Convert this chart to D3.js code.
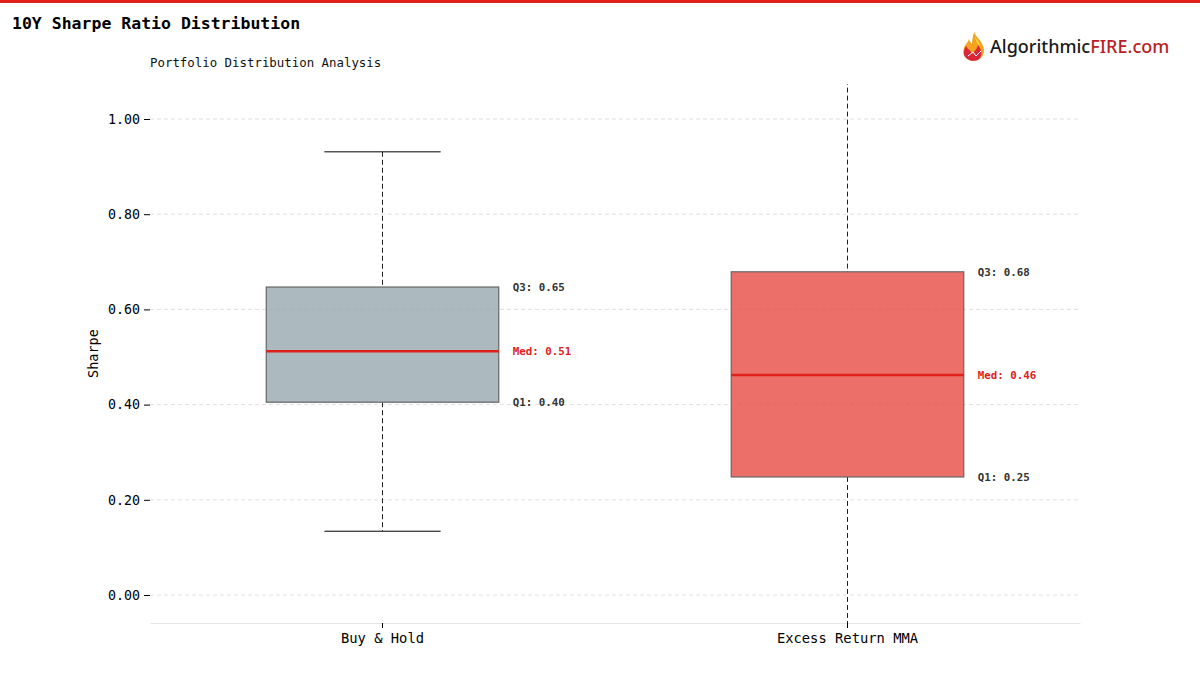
<!DOCTYPE html>
<html><head><meta charset="utf-8">
<script src="https://cdn.jsdelivr.net/npm/d3@7"></script>
<style>body{margin:0;background:#fff}</style>
</head><body>
<svg id="chart" width="1200" height="700"></svg>
<script>
const categories = ["Buy & Hold", "Excess Return MMA"];
const whiskerLow = [0.134, -0.15];
const q1 = [0.405, 0.248];
const median = [0.512, 0.462];
const q3 = [0.647, 0.679];
const whiskerHigh = [0.931, 1.15];
const q1Labels = ["Q1: 0.40", "Q1: 0.25"];
const medLabels = ["Med: 0.51", "Med: 0.46"];
const q3Labels = ["Q3: 0.65", "Q3: 0.68"];
const yTicks = [0, 0.2, 0.4, 0.6, 0.8, 1.0];
const fills = ["rgba(149,165,173,0.78)", "rgba(232,80,72,0.82)"];

const svg = d3.select("#chart");
const mono = "'DejaVu Sans Mono', monospace";
const L = 150, R = 1080, T = 84, B = 623;

svg.append("rect").attr("x",0).attr("y",0).attr("width",1200).attr("height",3).attr("fill","#e0201a");
svg.append("text").attr("x",12).attr("y",29).text("10Y Sharpe Ratio Distribution")
  .attr("font-family",mono).attr("font-weight","bold").attr("font-size",16.5).attr("fill","#000");
svg.append("text").attr("x",150).attr("y",67).text("Portfolio Distribution Analysis")
  .attr("font-family",mono).attr("font-size",12.4).attr("fill","#111");

// logo
const logo = svg.append("g").attr("transform","translate(962,31)");
logo.append("path").attr("d","M12,1 C14,6 19,9 21,15 C24,22 20,29 12,30 C4,30 0,23 2,17 C3,13 6,12 7,8 C8,11 9,12 10,13 C10,9 11,5 12,1Z").attr("fill","#f4a21f");
logo.append("path").attr("d","M4,15 C6,19 9,19 10,23 C12,20 15,19 16,14 C20,19 21,25 16,29 C11,31 4,29 2,24 C1,20 3,17 4,15Z").attr("fill","#d9263a");
logo.append("path").attr("d","M13,5 C15,9 18,11 18,15 C15,13 14,10 13,5Z").attr("fill","#fbd33a");
logo.append("path").attr("d","M6,25 L11,21 L14,25 L19,20").attr("fill","none").attr("stroke","#fff").attr("stroke-width",1);
const lt = svg.append("text").attr("x",990).attr("y",53).attr("font-family","'Noto Sans', sans-serif").attr("font-size",18).attr("font-weight",500);
lt.append("tspan").text("Algorithmic").attr("fill","#1a1a1a");
lt.append("tspan").text("FIRE.com").attr("fill","#b81e24");

const x = d3.scaleBand().domain(categories).range([L,R]);
const y = d3.scaleLinear().domain([-0.0588, 1.0735]).range([B,T]);

// grid
svg.append("g").selectAll("line").data(yTicks).join("line")
  .attr("x1",L).attr("x2",R).attr("y1",d=>y(d)).attr("y2",d=>y(d))
  .attr("stroke","#d8d8d8").attr("stroke-dasharray","4,3").attr("stroke-width",0.8);

// y axis
const ya = svg.append("g").attr("transform",`translate(${L},0)`)
  .call(d3.axisLeft(y).tickValues(yTicks).tickFormat(d3.format(".2f")).tickSize(6).tickSizeOuter(0).tickPadding(4));
ya.select(".domain").remove();
ya.selectAll(".tick line").attr("stroke","#000");
ya.selectAll("text").attr("font-family",mono).attr("font-size",13.3).attr("fill","#000");

// x axis
const xa = svg.append("g").attr("transform",`translate(0,${B})`)
  .call(d3.axisBottom(x).tickSize(5).tickSizeOuter(0).tickPadding(5));
xa.select(".domain").attr("stroke","#e6e6e6");
xa.selectAll(".tick line").attr("stroke","#000");
xa.selectAll("text").attr("font-family",mono).attr("font-size",13.8).attr("fill","#000");

svg.append("text").attr("transform",`translate(98,${(T+B)/2}) rotate(-90)`).attr("text-anchor","middle")
  .text("Sharpe").attr("font-family",mono).attr("font-size",13.5).attr("fill","#000");

svg.append("defs").append("clipPath").attr("id","clip").append("rect")
  .attr("x",L).attr("y",T).attr("width",R-L).attr("height",B-T);

const g = svg.append("g").attr("clip-path","url(#clip)");
const bw = x.bandwidth()*0.5;
categories.forEach((c,i)=>{
  const cx = x(c)+x.bandwidth()/2;
  g.append("line").attr("x1",cx).attr("x2",cx).attr("y1",y(whiskerHigh[i])).attr("y2",y(q3[i]))
    .attr("stroke","#222").attr("stroke-dasharray","5,3").attr("stroke-width",1);
  g.append("line").attr("x1",cx).attr("x2",cx).attr("y1",y(q1[i])).attr("y2",y(whiskerLow[i]))
    .attr("stroke","#222").attr("stroke-dasharray","5,3").attr("stroke-width",1);
  [whiskerHigh[i], whiskerLow[i]].forEach(v=>{
    g.append("line").attr("x1",cx-bw/4).attr("x2",cx+bw/4).attr("y1",y(v)).attr("y2",y(v))
      .attr("stroke","#000").attr("stroke-width",1);
  });
  g.append("rect").attr("x",cx-bw/2).attr("width",bw).attr("y",y(q3[i])).attr("height",y(q1[i])-y(q3[i]))
    .attr("fill",fills[i]).attr("stroke","#666").attr("stroke-width",1.2);
  g.append("line").attr("x1",cx-bw/2).attr("x2",cx+bw/2).attr("y1",y(median[i])).attr("y2",y(median[i]))
    .attr("stroke","#e0201a").attr("stroke-width",2.5);
  const lx = cx+bw/2+14;
  const lab = (t,v,col)=>svg.append("text").attr("x",lx).attr("y",y(v)).attr("dy","0.35em").text(t)
    .attr("font-family",mono).attr("font-weight","bold").attr("font-size",10.8).attr("fill",col);
  lab(q3Labels[i], q3[i], "#333");
  lab(medLabels[i], median[i], "#e0201a");
  lab(q1Labels[i], q1[i], "#333");
});
</script>
</body></html>
